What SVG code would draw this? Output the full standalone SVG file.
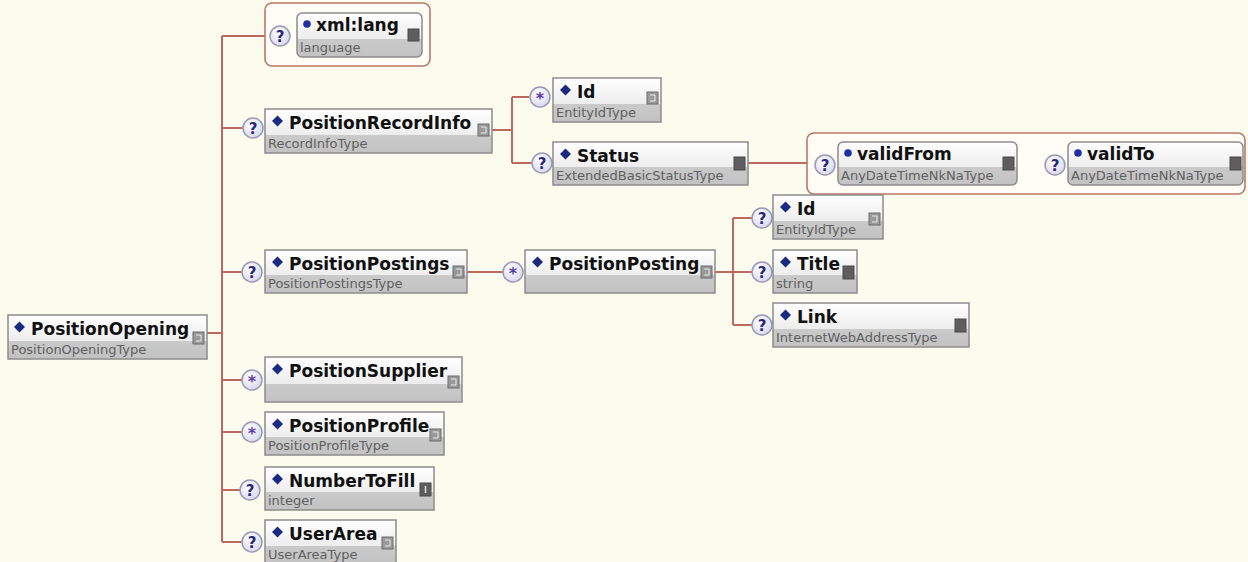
<svg xmlns="http://www.w3.org/2000/svg" width="1248" height="562" viewBox="0 0 1248 562">
<defs>
<linearGradient id="gb" x1="0" y1="0" x2="0" y2="1">
<stop offset="0" stop-color="#FFFFFF"/>
<stop offset="0.59" stop-color="#EDEDED"/>
<stop offset="0.59" stop-color="#CACACA"/>
<stop offset="1" stop-color="#C2C2C2"/>
</linearGradient>
<radialGradient id="gi" cx="0.4" cy="0.35" r="0.7">
<stop offset="0" stop-color="#FFFFFF"/>
<stop offset="1" stop-color="#D6D6EE"/>
</radialGradient>
<style>
.bx{fill:url(#gb);stroke:#8C8C8C;stroke-width:1.5}
.ag{fill:#FFFDF6;stroke:#B87868;stroke-width:1.6}
.nm{font-family:"DejaVu Sans",Verdana,sans-serif;font-weight:bold;font-size:17px;fill:#111}
.st{font-family:"DejaVu Sans",Verdana,sans-serif;font-size:13px;fill:#606060}
.dm{fill:#1A2A80}
.dot{fill:#2030A0}
.ci{fill:#9A9A9A;stroke:#6A6A6A;stroke-width:1}
.cs{fill:#5E5E5E;stroke:#4A4A4A;stroke-width:1}
.cg{fill:none;stroke:#E8E8E8;stroke-width:1}
.ic{fill:url(#gi);stroke:#9A9AB0;stroke-width:1.5}
.qt{font-family:"DejaVu Sans",Verdana,sans-serif;font-weight:bold;font-size:15px;fill:#28287A;text-anchor:middle}
.sr{font-family:"DejaVu Sans",Verdana,sans-serif;font-weight:bold;font-size:16px;fill:#5A3AA8;text-anchor:middle}
.ln{fill:none;stroke:#BC6A60;stroke-width:2}
</style>
</defs>
<rect width="1248" height="562" fill="#FBFBEE"/>

<g id="connectors" class="ln">
<path d="M207,333 H222"/>
<path d="M222,36 V542"/>
<path d="M222,36 H265"/>
<path d="M222,128 H243"/>
<path d="M222,272 H242"/>
<path d="M222,380 H242"/>
<path d="M222,432 H242"/>
<path d="M222,490 H240"/>
<path d="M222,542 H242"/>
<path d="M492,130 H512 M512,97 V163 M512,97 H529 M512,163 H532"/>
<path d="M748,163 H807"/>
<path d="M467,272 H503"/>
<path d="M715,272 H733 M733,218 V325 M733,218 H752 M733,272 H752 M733,325 H752"/>
</g>

<g id="n-PositionOpening" transform="translate(8,315)">
<rect class="bx" width="199" height="44"/>
<path class="dm" d="M6,12 l5.5,-5.5 5.5,5.5 -5.5,5.5z"/>
<text class="nm" x="23" y="20">PositionOpening</text>
<text class="st" x="3" y="39">PositionOpeningType</text>
<rect class="ci" x="185" y="17" width="11" height="12"/><path class="cg" d="M188,20 h5 v6 h-5"/>
</g>

<g id="n-xmllang">
<rect class="ag" x="265" y="3" width="165" height="63" rx="7"/>
<circle class="ic" cx="280" cy="36" r="10"/><text class="qt" x="280" y="41.5">?</text>
<rect class="bx" x="297" y="13" width="125" height="44" rx="5"/>
<circle class="dot" cx="307" cy="24" r="3.8"/>
<text class="nm" x="316" y="31">xml:lang</text>
<text class="st" x="300" y="52">language</text>
<rect class="cs" x="408" y="29" width="11" height="12"/>
</g>

<g id="n-PositionRecordInfo" transform="translate(265,109)">
<circle class="ic" cx="-12" cy="19" r="10"/><text class="qt" x="-12" y="24.5">?</text>
<rect class="bx" width="227" height="44"/>
<path class="dm" d="M7,12 l5.5,-5.5 5.5,5.5 -5.5,5.5z"/>
<text class="nm" x="24" y="20">PositionRecordInfo</text>
<text class="st" x="3" y="39">RecordInfoType</text>
<rect class="ci" x="213" y="15" width="11" height="12"/><path class="cg" d="M216,18 h5 v6 h-5"/>
</g>

<g id="n-Id1" transform="translate(553,78)">
<circle class="ic" cx="-13" cy="19" r="10"/><text class="sr" x="-13" y="25.5">*</text>
<rect class="bx" width="108" height="44"/>
<path class="dm" d="M7,12 l5.5,-5.5 5.5,5.5 -5.5,5.5z"/>
<text class="nm" x="24" y="20">Id</text>
<text class="st" x="3" y="39">EntityIdType</text>
<rect class="ci" x="94" y="14" width="11" height="12"/><path class="cg" d="M97,17 h5 v6 h-5"/>
</g>

<g id="n-Status" transform="translate(553,142)">
<circle class="ic" cx="-11" cy="21" r="10"/><text class="qt" x="-11" y="26.5">?</text>
<rect class="bx" width="195" height="43"/>
<path class="dm" d="M7,12 l5.5,-5.5 5.5,5.5 -5.5,5.5z"/>
<text class="nm" x="24" y="20">Status</text>
<text class="st" x="3" y="38">ExtendedBasicStatusType</text>
<rect class="cs" x="181" y="15" width="11" height="13"/>
</g>

<g id="n-StatusAttributes">
<rect class="ag" x="807" y="133" width="438" height="61" rx="7"/>
<circle class="ic" cx="825" cy="165" r="10"/><text class="qt" x="825" y="170.5">?</text>
<rect class="bx" x="838" y="142" width="179" height="43" rx="5"/>
<circle class="dot" cx="848" cy="153" r="3.8"/>
<text class="nm" x="857" y="160">validFrom</text>
<text class="st" x="841" y="180">AnyDateTimeNkNaType</text>
<rect class="cs" x="1003" y="157" width="11" height="13"/>
<circle class="ic" cx="1055" cy="165" r="10"/><text class="qt" x="1055" y="170.5">?</text>
<rect class="bx" x="1068" y="142" width="175" height="43" rx="5"/>
<circle class="dot" cx="1078" cy="153" r="3.8"/>
<text class="nm" x="1087" y="160">validTo</text>
<text class="st" x="1071" y="180">AnyDateTimeNkNaType</text>
<rect class="cs" x="1230" y="157" width="11" height="13"/>
</g>

<g id="n-PositionPostings" transform="translate(265,250)">
<circle class="ic" cx="-13" cy="22" r="10"/><text class="qt" x="-13" y="27.5">?</text>
<rect class="bx" width="202" height="43"/>
<path class="dm" d="M7,12 l5.5,-5.5 5.5,5.5 -5.5,5.5z"/>
<text class="nm" x="24" y="20">PositionPostings</text>
<text class="st" x="3" y="38">PositionPostingsType</text>
<rect class="ci" x="188" y="16" width="11" height="12"/><path class="cg" d="M191,19 h5 v6 h-5"/>
</g>

<g id="n-PositionPosting" transform="translate(525,250)">
<circle class="ic" cx="-12" cy="22" r="10"/><text class="sr" x="-12" y="28.5">*</text>
<rect class="bx" width="190" height="43"/>
<path class="dm" d="M7,12 l5.5,-5.5 5.5,5.5 -5.5,5.5z"/>
<text class="nm" x="24" y="20">PositionPosting</text>
<rect class="ci" x="176" y="16" width="11" height="12"/><path class="cg" d="M179,19 h5 v6 h-5"/>
</g>

<g id="n-Id2" transform="translate(773,195)">
<circle class="ic" cx="-11" cy="23" r="10"/><text class="qt" x="-11" y="28.5">?</text>
<rect class="bx" width="110" height="44"/>
<path class="dm" d="M7,12 l5.5,-5.5 5.5,5.5 -5.5,5.5z"/>
<text class="nm" x="24" y="20">Id</text>
<text class="st" x="3" y="39">EntityIdType</text>
<rect class="ci" x="96" y="18" width="11" height="12"/><path class="cg" d="M99,21 h5 v6 h-5"/>
</g>

<g id="n-Title" transform="translate(773,250)">
<circle class="ic" cx="-11" cy="22" r="10"/><text class="qt" x="-11" y="27.5">?</text>
<rect class="bx" width="84" height="43"/>
<path class="dm" d="M7,12 l5.5,-5.5 5.5,5.5 -5.5,5.5z"/>
<text class="nm" x="24" y="20">Title</text>
<text class="st" x="3" y="38">string</text>
<rect class="cs" x="70" y="16" width="11" height="13"/>
</g>

<g id="n-Link" transform="translate(773,303)">
<circle class="ic" cx="-11" cy="22" r="10"/><text class="qt" x="-11" y="27.5">?</text>
<rect class="bx" width="196" height="44"/>
<path class="dm" d="M7,12 l5.5,-5.5 5.5,5.5 -5.5,5.5z"/>
<text class="nm" x="24" y="20">Link</text>
<text class="st" x="3" y="39">InternetWebAddressType</text>
<rect class="cs" x="182" y="16" width="11" height="13"/>
</g>

<g id="n-PositionSupplier" transform="translate(265,357)">
<circle class="ic" cx="-13" cy="23" r="10"/><text class="sr" x="-13" y="29.5">*</text>
<rect class="bx" width="197" height="45"/>
<path class="dm" d="M7,12 l5.5,-5.5 5.5,5.5 -5.5,5.5z"/>
<text class="nm" x="24" y="20">PositionSupplier</text>
<rect class="ci" x="183" y="19" width="11" height="12"/><path class="cg" d="M186,22 h5 v6 h-5"/>
</g>

<g id="n-PositionProfile" transform="translate(265,412)">
<circle class="ic" cx="-13" cy="20" r="10"/><text class="sr" x="-13" y="26.5">*</text>
<rect class="bx" width="179" height="43"/>
<path class="dm" d="M7,12 l5.5,-5.5 5.5,5.5 -5.5,5.5z"/>
<text class="nm" x="24" y="20">PositionProfile</text>
<text class="st" x="3" y="38">PositionProfileType</text>
<rect class="ci" x="165" y="17" width="11" height="12"/><path class="cg" d="M168,20 h5 v6 h-5"/>
</g>

<g id="n-NumberToFill" transform="translate(265,467)">
<circle class="ic" cx="-15" cy="23" r="10"/><text class="qt" x="-15" y="28.5">?</text>
<rect class="bx" width="169" height="43"/>
<path class="dm" d="M7,12 l5.5,-5.5 5.5,5.5 -5.5,5.5z"/>
<text class="nm" x="24" y="20">NumberToFill</text>
<text class="st" x="3" y="38">integer</text>
<rect class="cs" x="155" y="16" width="11" height="13"/><path d="M160.5,19 v7" stroke="#DDD" stroke-width="1.5"/>
</g>

<g id="n-UserArea" transform="translate(265,520)">
<circle class="ic" cx="-13" cy="22" r="10"/><text class="qt" x="-13" y="27.5">?</text>
<rect class="bx" width="131" height="44"/>
<path class="dm" d="M7,12 l5.5,-5.5 5.5,5.5 -5.5,5.5z"/>
<text class="nm" x="24" y="20">UserArea</text>
<text class="st" x="3" y="39">UserAreaType</text>
<rect class="ci" x="117" y="17" width="11" height="12"/><path class="cg" d="M120,20 h5 v6 h-5"/>
</g>
</svg>
